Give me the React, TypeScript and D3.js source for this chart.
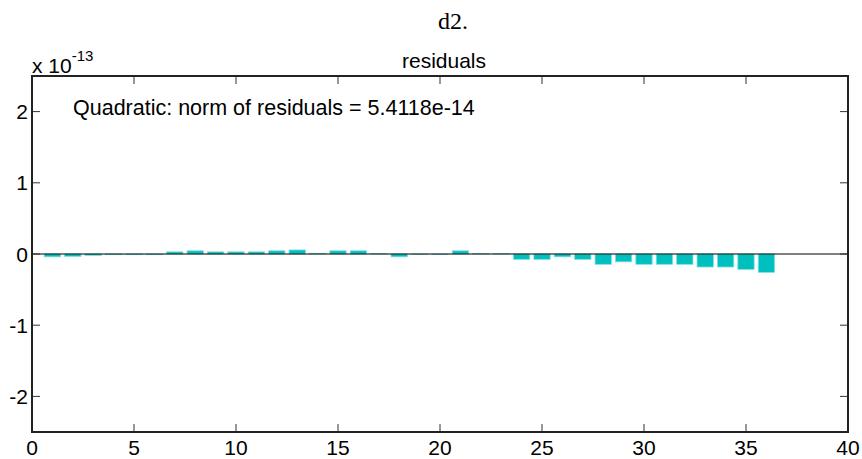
import React, { useRef, useEffect } from "react";
import * as d3 from "d3";

// residuals, in units of 1e-13, for x = 1..36
const xs = d3.range(1, 37);
const residuals = [
  -0.04, -0.035, -0.02, -0.01, -0.01, -0.01, 0.03, 0.045, 0.03, 0.03, 0.03, 0.045,
  0.057, 0.01, 0.045, 0.045, 0.005, -0.04, -0.005, -0.005, 0.045, 0.005, 0.005,
  -0.075, -0.075, -0.04, -0.075, -0.145, -0.11, -0.145, -0.145, -0.145, -0.183,
  -0.183, -0.216, -0.258,
];
const xTicks = [0, 5, 10, 15, 20, 25, 30, 35, 40];
const yTicks = [-2, -1, 0, 1, 2];
const figTitle = "d2.";
const axTitle = "residuals";
const note = "Quadratic: norm of residuals = 5.4118e-14";

const App = () => {
  const svgRef = useRef<SVGSVGElement>(null);

  useEffect(() => {
    const width = 862;
    const height = 459;
    const margin = { top: 76, right: 14, bottom: 27, left: 32 };
    const w = width - margin.left - margin.right;
    const h = height - margin.top - margin.bottom;
    const font = "'Liberation Sans', Arial, sans-serif";

    const svg = d3.select(svgRef.current);
    svg.selectAll("*").remove();
    svg.attr("width", width).attr("height", height);

    svg
      .append("text")
      .attr("x", 453)
      .attr("y", 29)
      .attr("text-anchor", "middle")
      .attr("font-family", "'Liberation Serif', 'Times New Roman', serif")
      .attr("font-size", 24)
      .text(figTitle);

    const chart = svg
      .append("g")
      .attr("transform", `translate(${margin.left},${margin.top})`);

    const x = d3.scaleLinear().domain([0, 40]).range([0, w]);
    const y = d3.scaleLinear().domain([-2.5, 2.5]).range([h, 0]);
    const barW = (x(1) - x(0)) * 0.8;

    // Bars
    chart
      .selectAll("rect.bar")
      .data(residuals)
      .enter()
      .append("rect")
      .attr("class", "bar")
      .attr("x", (_, i) => x(xs[i]) - barW / 2)
      .attr("y", (d) => y(Math.max(0, d)))
      .attr("width", barW)
      .attr("height", (d) => Math.abs(y(d) - y(0)))
      .attr("fill", "#00BFBF")
      .attr("stroke", "#7FE0E0")
      .attr("stroke-width", 0.8);

    // Zero line
    chart
      .append("line")
      .attr("x1", 0)
      .attr("x2", w)
      .attr("y1", y(0))
      .attr("y2", y(0))
      .attr("stroke", "#000")
      .attr("stroke-width", 1.2);

    // Ticks (inward, on all four sides)
    const tickLen = 8;
    xTicks.forEach((t) => {
      chart
        .append("line")
        .attr("x1", x(t))
        .attr("x2", x(t))
        .attr("y1", h)
        .attr("y2", h - tickLen)
        .attr("stroke", "#333");
      chart
        .append("line")
        .attr("x1", x(t))
        .attr("x2", x(t))
        .attr("y1", 0)
        .attr("y2", tickLen)
        .attr("stroke", "#333");
      chart
        .append("text")
        .attr("x", x(t))
        .attr("y", h + 23)
        .attr("text-anchor", "middle")
        .attr("font-family", font)
        .attr("font-size", 21)
        .text(t);
    });
    yTicks.forEach((t) => {
      chart
        .append("line")
        .attr("x1", 0)
        .attr("x2", tickLen)
        .attr("y1", y(t))
        .attr("y2", y(t))
        .attr("stroke", "#333");
      chart
        .append("line")
        .attr("x1", w)
        .attr("x2", w - tickLen)
        .attr("y1", y(t))
        .attr("y2", y(t))
        .attr("stroke", "#333");
      chart
        .append("text")
        .attr("x", -4)
        .attr("y", y(t) + 7.5)
        .attr("text-anchor", "end")
        .attr("font-family", font)
        .attr("font-size", 21)
        .text(t);
    });

    // Box
    chart
      .append("rect")
      .attr("x", 0)
      .attr("y", 0)
      .attr("width", w)
      .attr("height", h)
      .attr("fill", "none")
      .attr("stroke", "#222")
      .attr("stroke-width", 2);

    // Axes title
    svg
      .append("text")
      .attr("x", 444)
      .attr("y", 68)
      .attr("text-anchor", "middle")
      .attr("font-family", font)
      .attr("font-size", 21)
      .text(axTitle);

    // Exponent label
    const exp = svg
      .append("text")
      .attr("x", 32)
      .attr("y", 73)
      .attr("font-family", font)
      .attr("font-size", 21);
    exp.append("tspan").text("x 10");
    exp
      .append("tspan")
      .attr("font-size", 15)
      .attr("dy", -12)
      .text("-13");

    // Annotation
    svg
      .append("text")
      .attr("x", 73)
      .attr("y", 115)
      .attr("font-family", font)
      .attr("font-size", 21.5)
      .text(note);
  }, []);

  return (
    <div style={{ position: "absolute", left: 0, top: 0 }}>
      <svg ref={svgRef} style={{ display: "block" }} />
    </div>
  );
};

export default App;
